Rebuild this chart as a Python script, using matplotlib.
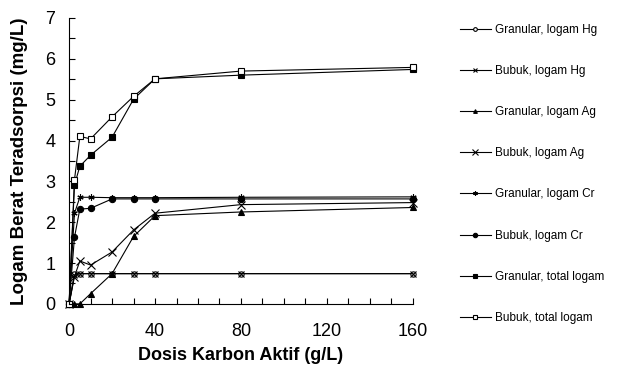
import numpy as np
import matplotlib.pyplot as plt
from matplotlib.ticker import MultipleLocator

plt.rcParams['font.family'] = ['Liberation Sans', 'DejaVu Sans']

dosis = [0, 2.5, 5, 10, 20, 30, 40, 80, 160]

granular_hg = [0, 0.74, 0.74, 0.74, 0.74, 0.74, 0.74, 0.74, 0.74]
bubuk_hg = [0, 0.70, 0.74, 0.74, 0.74, 0.74, 0.74, 0.74, 0.74]
granular_ag = [0, 0, 0, 0.25, 0.74, 1.65, 2.16, 2.25, 2.36]
bubuk_ag = [0, 0.67, 1.05, 0.95, 1.27, 1.81, 2.22, 2.43, 2.48]
granular_cr = [0, 2.22, 2.61, 2.61, 2.60, 2.60, 2.60, 2.61, 2.62]
bubuk_cr = [0, 1.63, 2.32, 2.34, 2.57, 2.57, 2.57, 2.57, 2.57]
granular_total = [0, 2.91, 3.37, 3.64, 4.08, 5.01, 5.51, 5.60, 5.74]
bubuk_total = [0, 3.04, 4.10, 4.04, 4.58, 5.08, 5.51, 5.70, 5.79]

series = [
    ("Granular, logam Hg", granular_hg, dict(marker='o', mfc='white', ms=3.8)),
    ("Bubuk, logam Hg", bubuk_hg, dict(marker='x', ms=4.5)),
    ("Granular, logam Ag", granular_ag, dict(marker='^', mfc='black', ms=3.8)),
    ("Bubuk, logam Ag", bubuk_ag, dict(marker='x', ms=5.5)),
    ("Granular, logam Cr", granular_cr, dict(marker=(6, 2, 0), ms=4.5)),
    ("Bubuk, logam Cr", bubuk_cr, dict(marker='o', mfc='black', ms=4.5)),
    ("Granular, total logam", granular_total, dict(marker='s', mfc='black', ms=4.5)),
    ("Bubuk, total logam", bubuk_total, dict(marker='s', mfc='white', ms=5)),
]

fig = plt.figure(figsize=(6.17, 3.67), dpi=100)
ax = fig.add_axes([0.112, 0.172, 0.557, 0.779])

for label, vals, style in series:
    ax.plot(dosis, vals, color='black', mec='black', lw=0.8, mew=0.8,
            label=label, clip_on=False, **style)

ax.set_xlim(0, 160)
ax.set_ylim(0, 7)
ax.xaxis.set_major_locator(MultipleLocator(40))
ax.xaxis.set_minor_locator(MultipleLocator(10))
ax.yaxis.set_major_locator(MultipleLocator(1))
ax.yaxis.set_minor_locator(MultipleLocator(0.5))
ax.tick_params(which='both', direction='in', labelsize=13, width=0.8, length=4)
ax.tick_params(axis='x', which='major', pad=14)
ax.tick_params(axis='y', which='major', pad=10)
for s in ['top', 'right']:
    ax.spines[s].set_visible(False)
for s in ['left', 'bottom']:
    ax.spines[s].set_linewidth(0.8)

ax.set_xlabel('Dosis Karbon Aktif (g/L)', fontsize=13, fontweight='bold')
ax.set_ylabel('Logam Berat Teradsorpsi (mg/L)', fontsize=13.5, fontweight='bold')
ax.xaxis.set_label_coords(0.5, -0.15)
ax.yaxis.set_label_coords(-0.12, 0.5)

fig.legend(*ax.get_legend_handles_labels(), loc='upper left',
           bbox_to_anchor=(0.7455, 0.935), frameon=False, fontsize=8.5,
           labelspacing=2.47, handlelength=2.6, handletextpad=0.35,
           borderpad=0, borderaxespad=0, markerscale=0.7)

fig.savefig('out.png', dpi=100)
